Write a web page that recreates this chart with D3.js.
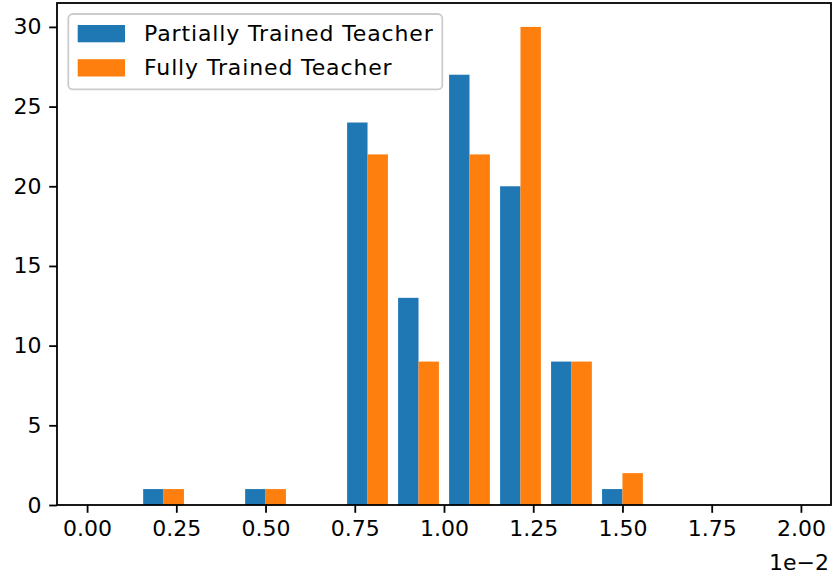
<!DOCTYPE html>
<html>
<head>
<meta charset="utf-8">
<script src="https://cdn.jsdelivr.net/npm/d3@7"></script>
<style>
  html, body { margin: 0; padding: 0; background: #ffffff; }
  svg { display: block; }
  text { font-family: "DejaVu Sans", sans-serif; fill: #000; }
</style>
</head>
<body>
<svg id="chart" width="835" height="578"></svg>
<script>
// Histogram bin edges (x in units of 1e-2), 14 equal bins over [0, 2]
const binEdges = [0, 0.142857, 0.285714, 0.428571, 0.571429, 0.714286, 0.857143,
                  1.0, 1.142857, 1.285714, 1.428571, 1.571429, 1.714286, 1.857143, 2.0];
const seriesNames = ["Partially Trained Teacher", "Fully Trained Teacher"];
const partialCounts = [0, 1, 0, 1, 0, 24, 13, 27, 20, 9, 1, 0, 0, 0];
const fullCounts    = [0, 1, 0, 1, 0, 22, 9, 22, 30, 9, 2, 0, 0, 0];
const xTicks = [0, 0.25, 0.5, 0.75, 1.0, 1.25, 1.5, 1.75, 2.0];
const yTicks = [0, 5, 10, 15, 20, 25, 30];
const xOffsetLabel = "1e\u22122";
const colors = ["#1f77b4", "#ff7f0e"];

const series = [partialCounts, fullCounts];

const plot = { left: 57, right: 831, top: 3, bottom: 505 };
const fontSize = 22;
const tickLen = 7.8;
const lineW = 1.8;

const svg = d3.select("#chart");

// bar extents (80% of each bin shared by the two series), then 5% axis margins
const nBins = binEdges.length - 1;
const bars = [];
for (let i = 0; i < nBins; i++) {
  const e0 = binEdges[i], w = binEdges[i + 1] - binEdges[i];
  series.forEach((vals, s) => {
    bars.push({ s, x0: e0 + w * (0.1 + 0.4 * s), x1: e0 + w * (0.5 + 0.4 * s), v: vals[i] });
  });
}
const xMin = d3.min(bars, d => d.x0), xMax = d3.max(bars, d => d.x1);
const xPad = (xMax - xMin) * 0.05;
const yMax = d3.max(series.flat()) * 1.05;

const x = d3.scaleLinear().domain([xMin - xPad, xMax + xPad]).range([plot.left, plot.right]);
const y = d3.scaleLinear().domain([0, yMax]).range([plot.bottom, plot.top]);

// bars
svg.append("g").selectAll("rect").data(bars).join("rect")
  .attr("x", d => x(d.x0))
  .attr("width", d => x(d.x1) - x(d.x0))
  .attr("y", d => y(d.v))
  .attr("height", d => y(0) - y(d.v))
  .attr("fill", d => colors[d.s]);

// axes
const xAxis = d3.axisBottom(x).tickValues(xTicks).tickFormat(d3.format(".2f"))
  .tickSize(tickLen).tickPadding(7.8);
const yAxis = d3.axisLeft(y).tickValues(yTicks).tickFormat(d3.format("d"))
  .tickSize(tickLen).tickPadding(7.8);

const gx = svg.append("g").attr("transform", `translate(0,${plot.bottom})`).call(xAxis);
const gy = svg.append("g").attr("transform", `translate(${plot.left},0)`).call(yAxis);
[gx, gy].forEach(g => {
  g.select(".domain").remove();
  g.selectAll(".tick line").attr("stroke", "#000").attr("stroke-width", lineW);
  g.selectAll(".tick text").attr("font-size", fontSize).attr("fill", "#000")
    .attr("font-family", "DejaVu Sans, sans-serif");
});

// offset label for the x axis
svg.append("text")
  .attr("x", plot.right - 2).attr("y", 569.5)
  .attr("text-anchor", "end")
  .attr("font-size", fontSize)
  .text(xOffsetLabel);

// spines
svg.append("rect")
  .attr("x", plot.left).attr("y", plot.top)
  .attr("width", plot.right - plot.left).attr("height", plot.bottom - plot.top)
  .attr("fill", "none").attr("stroke", "#000").attr("stroke-width", lineW);

// legend
const lg = svg.append("g");
lg.append("rect")
  .attr("x", 68.3).attr("y", 14).attr("width", 374).attr("height", 75.3)
  .attr("rx", 4.4).attr("ry", 4.4)
  .attr("fill", "#fff").attr("fill-opacity", 0.8)
  .attr("stroke", "#cccccc").attr("stroke-width", lineW);
seriesNames.forEach((name, i) => {
  const row = lg.append("g").attr("transform", `translate(0,${i * 34.2})`);
  row.append("rect")
    .attr("x", 77.7).attr("y", 25).attr("width", 47.3).attr("height", 17.3)
    .attr("fill", colors[i]);
  row.append("text")
    .attr("x", 144).attr("y", 41)
    .attr("font-size", fontSize)
    .attr("letter-spacing", 0.87)
    .text(name);
});
</script>
</body>
</html>
